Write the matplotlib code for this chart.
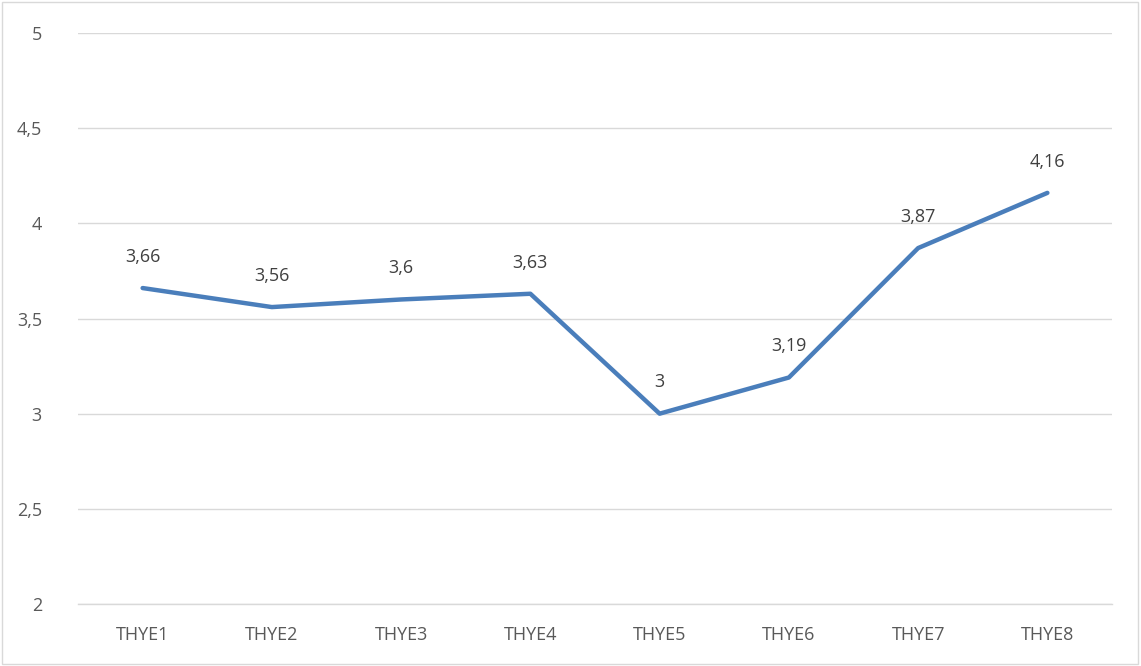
import matplotlib.pyplot as plt
from matplotlib.patches import Rectangle

categories = ['THYE1', 'THYE2', 'THYE3', 'THYE4', 'THYE5', 'THYE6', 'THYE7', 'THYE8']
values = [3.66, 3.56, 3.6, 3.63, 3.0, 3.19, 3.87, 4.16]
yticks = [2, 2.5, 3, 3.5, 4, 4.5, 5]

plt.rcParams['font.family'] = ['Open Sans', 'DejaVu Sans']
txt = '#595959'

fig = plt.figure(figsize=(11.41, 6.66), dpi=100)
ax = fig.add_axes([78/1141, 1-604/666, (1112-78)/1141, (604-33)/666])

x = list(range(len(categories)))
ax.plot(x, values, color='#4A7EBB', lw=3.2, solid_joinstyle='round', solid_capstyle='round', zorder=3)

# data labels, comma as decimal separator
for xi, v in zip(x, values):
    s = ('%g' % v).replace('.', ',')
    ax.annotate(s, (xi, v), xytext=(0, 16), textcoords='offset points',
                ha='center', va='bottom', fontsize=13, color='#404040')

ax.set_xlim(-0.5, 7.5)
ax.set_ylim(2, 5)
ax.set_yticks(yticks)
ax.set_yticklabels([('%g' % t).replace('.', ',') for t in yticks])
ax.set_xticks(x)
ax.set_xticklabels(categories)
ax.tick_params(axis='y', length=0, pad=26, labelsize=13, labelcolor=txt)
ax.tick_params(axis='x', length=0, pad=16, labelsize=13, labelcolor=txt)
ax.grid(axis='y', color='#D9D9D9', lw=1)
ax.axhline(2, color='#D9D9D9', lw=1, clip_on=False)
ax.set_axisbelow(True)
for sp in ax.spines.values():
    sp.set_visible(False)

# chart border
fig.patches.append(Rectangle((0.002, 0.003), 0.995, 0.994, transform=fig.transFigure,
                             fill=False, edgecolor='#D9D9D9', lw=1))

fig.savefig('out.png', dpi=100)
